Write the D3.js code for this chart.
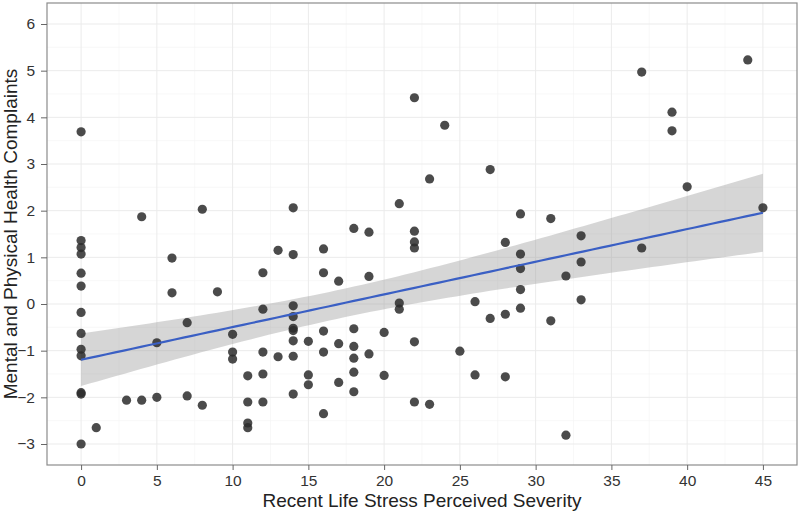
<!DOCTYPE html>
<html><head><meta charset="utf-8">
<script src="https://cdn.jsdelivr.net/npm/d3@7"></script>
<style>body{margin:0;background:#fff}svg{display:block}text{font-family:"Liberation Sans",Arial,sans-serif}</style>
</head><body><svg id="c" width="800" height="514"></svg>
<script>
const stressX = [0,0,0,0,0,0,0,0,0,0,0,0,0,
 1,3,4,4,5,5,6,6,7,7,8,8,9,
 10,10,10,11,11,11,11,12,12,12,12,12,13,13,
 14,14,14,14,14,14,14,14,14,15,15,15,16,16,16,16,16,17,17,17,
 18,18,18,18,18,18,19,19,19,20,20,21,21,21,
 22,22,22,22,22,22,23,23,24,25,26,26,27,27,28,28,28,
 29,29,29,29,29,31,31,32,32,33,33,33,37,37,39,39,40,44,45];
const complaintsY = [3.69,1.36,1.21,1.07,0.66,0.385,-0.18,-0.63,-0.97,-1.11,-1.90,-1.93,-3.0,
 -2.65,-2.06,1.87,-2.06,-0.83,-2.0,0.985,0.24,-0.40,-1.97,2.03,-2.17,0.26,
 -0.65,-1.03,-1.18,-1.54,-2.1,-2.55,-2.65,0.67,-0.11,-1.03,-1.50,-2.1,1.15,-1.13,
 2.06,1.06,-0.04,-0.27,-0.52,-0.57,-0.79,-1.12,-1.93,-0.80,-1.52,-1.73,1.18,0.67,-0.58,-1.03,-2.35,0.49,-0.85,-1.68,
 1.62,-0.53,-0.91,-1.16,-1.46,-1.88,1.54,0.59,-1.07,-0.61,-1.53,2.15,0.02,-0.11,
 4.42,1.56,1.33,1.20,-0.81,-2.10,2.68,-2.15,3.83,-1.01,0.05,-1.52,2.88,-0.31,1.32,-0.22,-1.56,
 1.93,1.07,0.76,0.31,-0.09,1.83,-0.36,0.60,-2.81,1.46,0.90,0.09,4.97,1.20,4.11,3.71,2.51,5.23,2.06];
const xTicks = [0,5,10,15,20,25,30,35,40,45];
const yTicks = [-3,-2,-1,0,1,2,3,4,5,6];
const xLabel = "Recent Life Stress Perceived Severity";
const yLabel = "Mental and Physical Health Complaints";

const svg = d3.select("#c");
const L=47, R=797, T=3, B=465;
const x = d3.scaleLinear().domain([-2.25,47.25]).range([L,R]);
const y = d3.scaleLinear().domain([-3.45,6.45]).range([B,T]);

// grid
const g = svg.append("g");
const xMinor = d3.range(-2.5,48,2.5).filter(v=>!xTicks.includes(v) && v>-2.25 && v<47.25);
const yMinor = d3.range(-3.5,6.6,0.5).filter(v=>!yTicks.includes(v) && v>-3.45 && v<6.45);
g.selectAll(".xm").data(xMinor).enter().append("line").attr("x1",d=>x(d)).attr("x2",d=>x(d)).attr("y1",T).attr("y2",B).attr("stroke","#f4f4f4").attr("stroke-width",0.6);
g.selectAll(".ym").data(yMinor).enter().append("line").attr("y1",d=>y(d)).attr("y2",d=>y(d)).attr("x1",L).attr("x2",R).attr("stroke","#f4f4f4").attr("stroke-width",0.6);
g.selectAll(".xM").data(xTicks).enter().append("line").attr("x1",d=>x(d)).attr("x2",d=>x(d)).attr("y1",T).attr("y2",B).attr("stroke","#ebebeb").attr("stroke-width",1);
g.selectAll(".yM").data(yTicks).enter().append("line").attr("y1",d=>y(d)).attr("y2",d=>y(d)).attr("x1",L).attr("x2",R).attr("stroke","#ebebeb").attr("stroke-width",1);

// regression
const n = stressX.length;
const mx = d3.mean(stressX), my = d3.mean(complaintsY);
let sxx=0, sxy=0;
for(let i=0;i<n;i++){sxx+=(stressX[i]-mx)**2; sxy+=(stressX[i]-mx)*(complaintsY[i]-my);}
const b1 = sxy/sxx, b0 = my-b1*mx;
let sse=0; for(let i=0;i<n;i++){sse+=(complaintsY[i]-b0-b1*stressX[i])**2;}
const s = Math.sqrt(sse/(n-2)), tq = 1.983;
const xs = d3.range(0,45.01,45/80);
const fit = xs.map(v=>{const f=b0+b1*v, se=s*Math.sqrt(1/n+(v-mx)**2/sxx); return {x:v,f,lo:f-tq*se,hi:f+tq*se};});
svg.append("path").datum(fit).attr("d",d3.area().x(d=>x(d.x)).y0(d=>y(d.lo)).y1(d=>y(d.hi))).attr("fill","#999").attr("fill-opacity",0.4);

// points
svg.append("g").selectAll("circle").data(stressX.map((v,i)=>[v,complaintsY[i]])).enter().append("circle")
 .attr("cx",d=>x(d[0])).attr("cy",d=>y(d[1])).attr("r",4.6).attr("fill","#2b2b2b").attr("fill-opacity",0.85);

svg.append("path").datum(fit).attr("d",d3.line().x(d=>x(d.x)).y(d=>y(d.f))).attr("fill","none").attr("stroke","#3a5fc4").attr("stroke-width",2.2);

// border
svg.append("rect").attr("x",L).attr("y",T).attr("width",R-L).attr("height",B-T).attr("fill","none").attr("stroke","#8c8c8c").attr("stroke-width",1.2);

// axes
const xa = svg.append("g").attr("transform",`translate(0,${B})`).call(d3.axisBottom(x).tickValues(xTicks).tickSize(5).tickPadding(5));
const ya = svg.append("g").attr("transform",`translate(${L},0)`).call(d3.axisLeft(y).tickValues(yTicks).tickSize(6).tickPadding(6));
[xa,ya].forEach(a=>{a.select(".domain").remove(); a.selectAll("line").attr("stroke","#666"); a.selectAll("text").attr("font-size",15.5).attr("fill","#333").attr("font-family","Liberation Sans, Arial, sans-serif");});

svg.append("text").attr("x",(L+R)/2).attr("y",507).attr("text-anchor","middle").attr("font-size",19).attr("fill","#222").text(xLabel);
svg.append("text").attr("transform",`translate(17,${(T+B)/2}) rotate(-90)`).attr("text-anchor","middle").attr("font-size",19).attr("fill","#222").text(yLabel);
</script></body></html>
